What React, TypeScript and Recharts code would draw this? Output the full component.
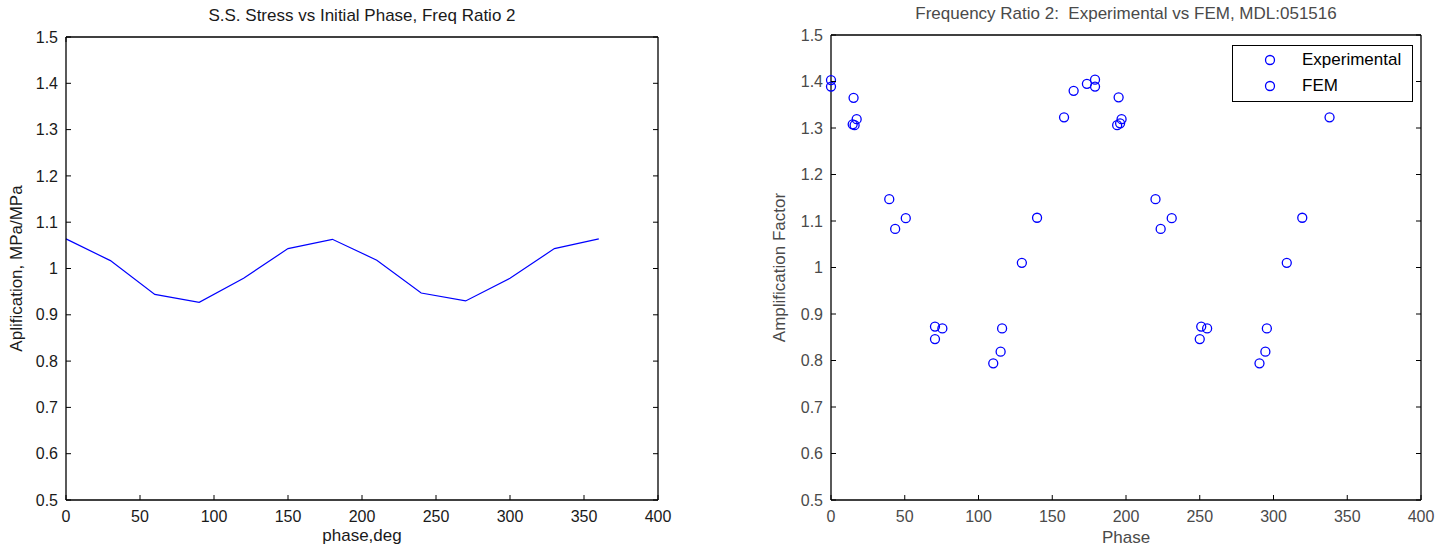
import { LineChart, Line, ScatterChart, Scatter, XAxis, YAxis, Legend } from 'recharts';

// left panel: steady-state stress vs initial phase
const phaseDeg = [0, 30, 60, 90, 120, 150, 180, 210, 240, 270, 300, 330, 360];
const ssAmplification = [1.064, 1.017, 0.944, 0.927, 0.979, 1.043, 1.063, 1.018, 0.947, 0.93, 0.979, 1.043, 1.064];

// right panel: experimental vs FEM
const expPhase = [0, 15.3, 39.5, 50.7, 70.5, 110, 115, 129.4, 139.7, 158, 164.5, 179, 195, 220, 231, 251, 290.5, 294.5, 309, 319.5, 338];
const expAmp = [1.389, 1.365, 1.147, 1.106, 0.873, 0.794, 0.819, 1.01, 1.107, 1.323, 1.38, 1.389, 1.366, 1.147, 1.106, 0.873, 0.794, 0.819, 1.01, 1.107, 1.323];
const femPhase = [0, 14.7, 16, 17.4, 43.5, 70.5, 75.5, 116, 173.5, 179, 194, 196, 197, 223.5, 250, 255, 295.5];
const femAmp = [1.403, 1.308, 1.306, 1.319, 1.083, 0.846, 0.869, 0.869, 1.395, 1.404, 1.306, 1.31, 1.319, 1.083, 0.846, 0.869, 0.869];

const xTicks = [0, 50, 100, 150, 200, 250, 300, 350, 400];
const yTicks = [0.5, 0.6, 0.7, 0.8, 0.9, 1, 1.1, 1.2, 1.3, 1.4, 1.5];

const lineData = phaseDeg.map((p, i) => ({ phase: p, amp: ssAmplification[i] }));
const expData = expPhase.map((p, i) => ({ phase: p, amp: expAmp[i] }));
const femData = femPhase.map((p, i) => ({ phase: p, amp: femAmp[i] }));

const FONT = "'Liberation Sans', Arial, Helvetica, sans-serif";
const BLUE = '#0000ff';
const AXIS = { stroke: '#000', strokeWidth: 1.3 };
const TICK_LEN = 5;
const GAP = 8;

// ticks point inward, like matlab's box axes
const bottomTick = (color: string) => (p: any) => (
  <g>
    <line x1={p.x} x2={p.x} y1={p.y - GAP} y2={p.y - GAP - TICK_LEN} stroke="#000" />
    <text x={p.x} y={p.y} dy="0.85em" textAnchor="middle" fill={color} fontSize={16} fontFamily={FONT}>
      {p.payload.value}
    </text>
  </g>
);

const leftTick = (color: string) => (p: any) => (
  <g>
    <line x1={p.x + GAP} x2={p.x + GAP + TICK_LEN} y1={p.y} y2={p.y} stroke="#000" />
    <text x={p.x} y={p.y} dy="0.35em" textAnchor="end" fill={color} fontSize={16} fontFamily={FONT}>
      {p.payload.value}
    </text>
  </g>
);

const topTick = (p: any) => <line x1={p.x} x2={p.x} y1={p.y} y2={p.y + TICK_LEN} stroke="#000" />;
const rightTick = (p: any) => <line x1={p.x} x2={p.x - TICK_LEN} y1={p.y} y2={p.y} stroke="#000" />;

const ringShape = (p: any) => <circle cx={p.cx} cy={p.cy} r={4.5} fill="none" stroke={BLUE} strokeWidth={1.3} />;

function MatlabLegend({ payload }: any) {
  return (
    <div
      style={{
        width: 181,
        height: 57,
        border: '1px solid #000',
        background: '#fff',
        boxSizing: 'border-box',
        position: 'relative',
        fontFamily: FONT,
        fontSize: 17,
        color: '#000',
      }}
    >
      {(payload || []).map((entry: any, i: number) => (
        <div
          key={entry.value}
          style={{ position: 'absolute', left: 0, top: 1 + i * 26, height: 26, display: 'flex', alignItems: 'center' }}
        >
          <svg width={69} height={26}>
            <circle cx={37} cy={13} r={4.5} fill="none" stroke={BLUE} strokeWidth={1.3} />
          </svg>
          <span>{entry.value}</span>
        </div>
      ))}
    </div>
  );
}

export default function App() {
  const leftText = '#1a1a1a';
  const rightText = '#4a4a4a';
  return (
    <div style={{ position: 'absolute', left: 0, top: 0, width: 1451, height: 552, background: '#fff' }}>
      <div
        style={{
          position: 'absolute', left: 66, width: 592, top: 6, textAlign: 'center',
          fontFamily: FONT, fontSize: 17, color: leftText,
        }}
      >
        S.S. Stress vs Initial Phase, Freq Ratio 2
      </div>
      <div
        style={{
          position: 'absolute', left: 831, width: 590, top: 4, textAlign: 'center',
          fontFamily: FONT, fontSize: 17, color: rightText, whiteSpace: 'pre',
        }}
      >
        {'Frequency Ratio 2:  Experimental vs FEM, MDL:051516'}
      </div>

      <div style={{ position: 'absolute', left: 0, top: 0 }}>
        <LineChart width={700} height={552} data={lineData} margin={{ top: 36, right: 41, bottom: 51, left: 65 }}>
          <XAxis
            dataKey="phase" type="number" domain={[0, 400]} ticks={xTicks} interval={0}
            height={1} tickSize={0} tickMargin={GAP} tick={bottomTick(leftText)}
            axisLine={AXIS}
            label={{ value: 'phase,deg', position: 'bottom', offset: 28, fill: leftText, fontSize: 17, fontFamily: FONT }}
          />
          <XAxis
            xAxisId="top" orientation="top" type="number" domain={[0, 400]} ticks={xTicks} interval={0}
            allowDataOverflow height={1} tickSize={0} tickMargin={0} tick={topTick} axisLine={AXIS}
          />
          <YAxis
            type="number" domain={[0.5, 1.5]} ticks={yTicks} interval={0} allowDataOverflow
            width={1} tickSize={0} tickMargin={GAP} tick={leftTick(leftText)} axisLine={AXIS}
            label={{
              value: 'Aplification, MPa/MPa', angle: -90, position: 'left', offset: 49,
              fill: leftText, fontSize: 17, fontFamily: FONT, style: { textAnchor: 'middle' },
            }}
          />
          <YAxis
            yAxisId="right" orientation="right" type="number" domain={[0.5, 1.5]} ticks={yTicks} interval={0}
            allowDataOverflow width={1} tickSize={0} tickMargin={0} tick={rightTick} axisLine={AXIS}
          />
          <Line dataKey="amp" stroke={BLUE} strokeWidth={1.2} dot={false} isAnimationActive={false} />
        </LineChart>
      </div>

      <div style={{ position: 'absolute', left: 760, top: 0 }}>
        <ScatterChart width={691} height={552} margin={{ top: 34, right: 29, bottom: 51, left: 70 }}>
          <XAxis
            dataKey="phase" type="number" domain={[0, 400]} ticks={xTicks} interval={0}
            height={1} tickSize={0} tickMargin={GAP} tick={bottomTick(rightText)}
            axisLine={AXIS}
            label={{ value: 'Phase', position: 'bottom', offset: 30, fill: rightText, fontSize: 17, fontFamily: FONT }}
          />
          <XAxis
            xAxisId="top" orientation="top" type="number" domain={[0, 400]} ticks={xTicks} interval={0}
            allowDataOverflow height={1} tickSize={0} tickMargin={0} tick={topTick} axisLine={AXIS}
          />
          <YAxis
            dataKey="amp" type="number" domain={[0.5, 1.5]} ticks={yTicks} interval={0} allowDataOverflow
            width={1} tickSize={0} tickMargin={GAP} tick={leftTick(rightText)} axisLine={AXIS}
            label={{
              value: 'Amplification Factor', angle: -90, position: 'left', offset: 51,
              fill: rightText, fontSize: 17, fontFamily: FONT, style: { textAnchor: 'middle' },
            }}
          />
          <YAxis
            yAxisId="right" orientation="right" type="number" domain={[0.5, 1.5]} ticks={yTicks} interval={0}
            allowDataOverflow width={1} tickSize={0} tickMargin={0} tick={rightTick} axisLine={AXIS}
          />
          <Legend
            layout="vertical" align="center" verticalAlign="middle" content={MatlabLegend}
            wrapperStyle={{ left: 472, top: 45, width: 181, height: 57 }}
          />
          <Scatter name="Experimental" data={expData} fill={BLUE} shape={ringShape} isAnimationActive={false} />
          <Scatter name="FEM" data={femData} fill={BLUE} shape={ringShape} isAnimationActive={false} />
        </ScatterChart>
      </div>
    </div>
  );
}
